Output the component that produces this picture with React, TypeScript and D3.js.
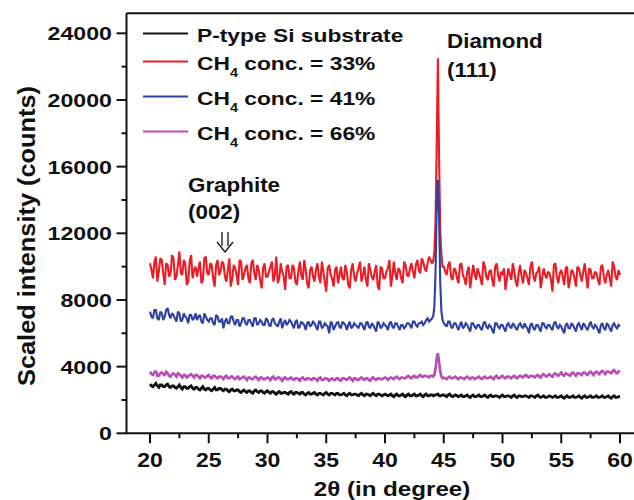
import React from "react";
import * as d3 from "d3";

// 2θ sampling grids: main values at 20 + 0.25*i, half-step values at 20.125 + 0.25*i
const baseStart = 20;
const halfStart = 20.125;
const baseStep = 0.25;

const seriesNames = ["P-type Si substrate", "33%", "41%", "66%"];
const seriesColors = ["#111111", "#ec1c24", "#2d41a0", "#b94bb4"];

// Red: CH4 = 33%
const red33: (number | null)[] = [
  10200, 9300, 10600, 9700, 10400, 8900, 10100, 9600,
  10500, 9400, 10900, 9500, 10200, 9100, 10700, 9800,
  9400, 10300, 9200, 10600, 9500, 10100, 8800, 10400,
  9700, 10200, 9100, 10500, 9300, 9900, 8900, 10300,
  9500, 10100, 9000, 10400, 9200, 9800, 8700, 10200,
  9400, 10000, 9100, 10600, 9300, 9700, 8600, 10100,
  9300, 9900, 8900, 10300, 9200, 9800, 8700, 10000,
  9100, 10200, 9000, 9700, 8500, 10100, 9300, 9800,
  9000, 10000, 9200, 9700, 8700, 10200, 9100, 9900,
  9100, 10000, 8800, 9800, 9200, 10100, 8600, 9900,
  9300, 9900, 8800, 10300, 9200, 9800, 9000, 10100,
  9400, 10200, 9300, 10400, 9600, 10300, 9700, 10600,
  10200, null, null, null, 10000, 9500, 10300, 9200,
  9800, 9000, 10200, 9300, 9700, 8700, 10100, 9200,
  9600, 8900, 10000, 9200, 9800, 8800, 10200, 9100,
  9500, 8600, 9900, 9200, 9700, 8800, 10100, 9000,
  9600, 8900, 10300, 9100, 9700, 8700, 9900, 9300,
  9600, 8500, 10200, 9000, 9800, 8900, 10000, 9200,
  9700, 8800, 9900, 9100, 10200, 8700, 9800, 9300,
  9600, 8900, 10100, 9000, 9800, 8800, 10000, 9200,
  9500,
];
const red33Half: (number | null)[] = [
  9800, 10300, 9100, 10500, 9600, 10200, 9400, 10700,
  9200, 10100, 9600, 10400, 8900, 10300, 9300, 10000,
  9900, 9000, 10500, 9600, 10200, 9300, 10100, 9500,
  10300, 9400, 9800, 8800, 10100, 9500, 10400, 9200,
  9900, 9300, 10200, 9600, 10100, 9200, 9900, 9400,
  9700, 10300, 9500, 9000, 10200, 9400, 10000, 9300,
  10100, 9100, 9700, 9500, 10400, 9000, 9800, 9400,
  9800, 9400, 10300, 9100, 9900, 9500, 8800, 10000,
  9500, 9300, 10100, 8900, 9800, 9400, 9600, 10300,
  9500, 9200, 10200, 9400, 9700, 8900, 10000, 9300,
  9700, 10400, 9400, 9600, 9900, 9300, 10300, 9500,
  9900, 9700, 10100, 9800, 10500, 9900, 10200, 10400,
  null, null, null, null, 9700, 10100, 9400, 9900,
  9300, 10100, 9500, 8900, 10000, 9400, 9600, 9900,
  9300, 10300, 9400, 9700, 9200, 10000, 9500, 9700,
  9900, 9300, 9500, 10200, 9100, 9600, 9400, 9800,
  9300, 10000, 9500, 9600, 10000, 9300, 9500, 9700,
  9200, 10100, 9400, 9600, 9400, 9900, 8700, 9800,
  9300, 10000, 9500, 9700, 9400, 9900, 9300, 9700,
  9200, 10000, 9400, 9500, 9300, 10300, 9400, 9800,
];

// Blue: CH4 = 41%
const blue41: (number | null)[] = [
  7300, 6900, 7400, 6800, 7200, 7000, 7500, 6900,
  7100, 6700, 7200, 6800, 7000, 6600, 7100, 6900,
  6800, 7100, 6600, 7000, 6700, 6900, 6500, 7000,
  6700, 6300, 6900, 6600, 7000, 6500, 6800, 6600,
  6900, 6500, 6800, 6400, 6900, 6600, 6700, 6500,
  6800, 6400, 6900, 6500, 6700, 6300, 6800, 6600,
  6700, 6300, 6800, 6400, 6600, 6200, 6700, 6500,
  6600, 6200, 6700, 6400, 6500, 6000, 6600, 6400,
  6700, 6300, 6600, 6200, 6700, 6400, 6500, 6300,
  6600, 6200, 6700, 6300, 6500, 6100, 6600, 6400,
  6500, 6200, 6700, 6300, 6600, 6200, 6500, 6400,
  6600, 6300, 6700, 6400, 6600, 6500, 6800, 6700,
  6900, null, null, null, 6600, 6400, 6700, 6300,
  6600, 6200, 6700, 6400, 6500, 6100, 6600, 6300,
  6500, 6200, 6700, 6300, 6400, 6000, 6600, 6300,
  6500, 6100, 6600, 6300, 6500, 6200, 6600, 6300,
  6400, 6000, 6600, 6200, 6500, 6100, 6600, 6300,
  6500, 6200, 6700, 6300, 6400, 6000, 6600, 6300,
  6500, 6100, 6600, 6200, 6500, 6200, 6700, 6300,
  6400, 6000, 6600, 6200, 6500, 6100, 6600, 6300,
  6400,
];
const blue41Half: (number | null)[] = [
  7000, 7400, 6900, 7300, 6800, 7400, 7100, 7200,
  6900, 7300, 6700, 7200, 6900, 7100, 6800, 7200,
  7000, 6700, 7200, 6800, 6900, 6600, 7100, 6700,
  6900, 6700, 6600, 7000, 6700, 6800, 6400, 6900,
  6600, 6800, 6600, 6900, 6500, 6800, 6500, 6900,
  6500, 6800, 6600, 6400, 6900, 6600, 6500, 6800,
  6500, 6700, 6300, 6700, 6500, 6600, 6400, 6700,
  6400, 6700, 6300, 6600, 6400, 6700, 6200, 6600,
  6400, 6700, 6500, 6500, 6300, 6600, 6400, 6600,
  6400, 6600, 6400, 6600, 6300, 6700, 6300, 6600,
  6400, 6600, 6400, 6600, 6400, 6500, 6300, 6600,
  6500, 6700, 6500, 6600, 6700, 6600, 6900, 6800,
  null, null, null, null, 6500, 6700, 6400, 6600,
  6400, 6500, 6300, 6600, 6300, 6600, 6400, 6500,
  6300, 6600, 6400, 6500, 6200, 6600, 6400, 6500,
  6300, 6500, 6400, 6600, 6300, 6500, 6400, 6600,
  6300, 6500, 6300, 6500, 6300, 6600, 6400, 6500,
  6300, 6600, 6400, 6500, 6200, 6500, 6300, 6600,
  6300, 6500, 6400, 6600, 6300, 6500, 6400, 6500,
  6200, 6500, 6300, 6600, 6300, 6500, 6400, 6500,
];

// Magenta: CH4 = 66%
const magenta66: (number | null)[] = [
  3700, 3500, 3750, 3450, 3650, 3500, 3600, 3400,
  3600, 3400, 3550, 3350, 3500, 3400, 3550, 3350,
  3500, 3300, 3450, 3350, 3500, 3300, 3450, 3300,
  3400, 3250, 3450, 3300, 3400, 3250, 3400, 3300,
  3400, 3200, 3350, 3250, 3400, 3200, 3350, 3250,
  3350, 3200, 3400, 3250, 3350, 3150, 3350, 3250,
  3350, 3200, 3300, 3150, 3350, 3200, 3300, 3200,
  3300, 3150, 3350, 3200, 3300, 3150, 3300, 3200,
  3300, 3150, 3300, 3200, 3350, 3150, 3300, 3200,
  3350, 3200, 3300, 3150, 3350, 3200, 3300, 3250,
  3350, 3200, 3350, 3250, 3400, 3250, 3350, 3300,
  3450, 3300, 3450, 3350, 3500, 3400, 3450, 3350,
  3450, null, null, null, 3350, 3250, 3400, 3300,
  3400, 3250, 3350, 3250, 3400, 3250, 3350, 3300,
  3400, 3250, 3400, 3300, 3400, 3250, 3450, 3300,
  3450, 3300, 3400, 3300, 3450, 3300, 3450, 3350,
  3500, 3350, 3450, 3350, 3500, 3350, 3550, 3400,
  3550, 3400, 3600, 3450, 3650, 3450, 3550, 3450,
  3650, 3450, 3600, 3500, 3650, 3500, 3700, 3500,
  3700, 3550, 3750, 3550, 3700, 3600, 3800, 3600,
  3750,
];
const magenta66Half: (number | null)[] = [
  3550, 3650, 3450, 3600, 3550, 3700, 3450, 3550,
  3500, 3600, 3450, 3500, 3350, 3500, 3450, 3500,
  3400, 3450, 3350, 3450, 3350, 3450, 3350, 3400,
  3350, 3400, 3300, 3400, 3300, 3350, 3250, 3350,
  3300, 3350, 3250, 3350, 3300, 3350, 3250, 3300,
  3300, 3350, 3250, 3350, 3250, 3300, 3250, 3300,
  3250, 3300, 3250, 3300, 3250, 3300, 3250, 3300,
  3250, 3300, 3200, 3300, 3250, 3250, 3200, 3300,
  3200, 3300, 3250, 3300, 3250, 3300, 3200, 3300,
  3250, 3300, 3200, 3300, 3250, 3300, 3250, 3300,
  3300, 3300, 3300, 3350, 3300, 3350, 3300, 3400,
  3350, 3400, 3350, 3450, 3400, 3450, 3400, 3450,
  null, null, null, null, 3300, 3350, 3300, 3350,
  3300, 3350, 3300, 3350, 3300, 3350, 3250, 3350,
  3300, 3350, 3300, 3350, 3300, 3400, 3300, 3400,
  3350, 3400, 3350, 3400, 3350, 3400, 3400, 3450,
  3400, 3450, 3400, 3450, 3400, 3500, 3450, 3500,
  3450, 3550, 3500, 3550, 3500, 3600, 3500, 3600,
  3550, 3600, 3550, 3650, 3550, 3650, 3600, 3650,
  3600, 3700, 3650, 3700, 3650, 3750, 3650, 3700,
];

// Black: P-type Si substrate
const blackSi: (number | null)[] = [
  2950, 2800, 3000, 2750, 2900, 2800, 2950, 2750,
  2850, 2700, 2900, 2650, 2800, 2700, 2850, 2650,
  2750, 2600, 2800, 2600, 2700, 2550, 2750, 2600,
  2700, 2550, 2650, 2500, 2650, 2550, 2600, 2450,
  2600, 2450, 2550, 2400, 2600, 2450, 2550, 2400,
  2550, 2400, 2500, 2350, 2500, 2400, 2450, 2350,
  2500, 2350, 2450, 2350, 2450, 2300, 2450, 2350,
  2450, 2300, 2400, 2300, 2450, 2300, 2400, 2300,
  2400, 2300, 2400, 2250, 2400, 2300, 2350, 2250,
  2400, 2250, 2350, 2250, 2400, 2250, 2350, 2250,
  2350, 2250, 2350, 2200, 2350, 2250, 2350, 2200,
  2350, 2250, 2350, 2250, 2350, 2200, 2350, 2250,
  2300, 2300, 2350, 2250, 2300, 2200, 2350, 2200,
  2300, 2200, 2300, 2200, 2300, 2150, 2300, 2200,
  2300, 2200, 2300, 2150, 2300, 2200, 2250, 2150,
  2300, 2200, 2250, 2150, 2300, 2150, 2250, 2200,
  2250, 2150, 2250, 2150, 2300, 2150, 2250, 2150,
  2250, 2150, 2250, 2150, 2250, 2100, 2250, 2150,
  2250, 2150, 2250, 2100, 2250, 2150, 2250, 2150,
  2250, 2150, 2250, 2150, 2250, 2100, 2250, 2150,
  2200,
];
const blackSiHalf: (number | null)[] = [
  2850, 2900, 2850, 2900, 2800, 2900, 2800, 2850,
  2750, 2800, 2750, 2800, 2700, 2800, 2700, 2750,
  2650, 2700, 2650, 2700, 2600, 2650, 2600, 2700,
  2600, 2650, 2550, 2600, 2550, 2600, 2500, 2550,
  2500, 2550, 2450, 2550, 2500, 2550, 2450, 2500,
  2450, 2500, 2400, 2450, 2400, 2450, 2400, 2450,
  2400, 2450, 2400, 2450, 2350, 2400, 2350, 2400,
  2350, 2400, 2350, 2400, 2350, 2400, 2350, 2400,
  2300, 2350, 2300, 2350, 2300, 2350, 2300, 2350,
  2300, 2350, 2300, 2350, 2300, 2350, 2300, 2300,
  2300, 2300, 2250, 2300, 2250, 2300, 2250, 2300,
  2250, 2300, 2250, 2300, 2250, 2300, 2250, 2300,
  2250, 2300, 2250, 2300, 2250, 2300, 2250, 2250,
  2250, 2250, 2200, 2250, 2200, 2250, 2200, 2250,
  2200, 2250, 2200, 2250, 2200, 2250, 2200, 2250,
  2200, 2250, 2200, 2250, 2200, 2250, 2200, 2250,
  2200, 2250, 2200, 2250, 2200, 2200, 2150, 2200,
  2200, 2200, 2150, 2200, 2150, 2200, 2150, 2200,
  2150, 2200, 2150, 2200, 2150, 2200, 2150, 2200,
  2150, 2200, 2150, 2200, 2150, 2200, 2150, 2200,
];

// Diamond (111) peak region
const peakX = [44.1, 44.2, 44.3, 44.4, 44.5, 44.6, 44.7, 44.8, 44.9];
const peakRed = [10300, 10900, 12600, 17200, 22500, 16600, 12100, 10700, 10000];
const peakBlue = [7000, 7600, 9600, 13600, 15200, 13100, 9100, 7300, 6800];
const peakMagenta = [3400, 3500, 3900, 4500, 4800, 4300, 3700, 3400, 3300];
const peakBlack: number[] = [];

const xTicks = [20, 25, 30, 35, 40, 45, 50, 55, 60];
const yTicks = [0, 4000, 8000, 12000, 16000, 20000, 24000];

type Pt = [number, number];

function buildSeries(
  base: (number | null)[],
  half: (number | null)[],
  peak: number[]
): Pt[] {
  const pts: Pt[] = [];
  base.forEach((v, i) => {
    if (v !== null) pts.push([baseStart + i * baseStep, v]);
  });
  half.forEach((v, i) => {
    if (v !== null) pts.push([halfStart + i * baseStep, v]);
  });
  peak.forEach((v, i) => pts.push([peakX[i], v]));
  pts.sort((a, b) => a[0] - b[0]);
  return pts;
}

const FONT = "'Liberation Sans', Arial, Helvetica, sans-serif";

function T(props: {
  x: number;
  y: number;
  size: number;
  sx?: number;
  anchor?: "start" | "middle" | "end";
  children: React.ReactNode;
}) {
  const { x, y, size, sx = 1.15, anchor = "start", children } = props;
  return (
    <text
      transform={`translate(${x},${y}) scale(${sx},1)`}
      fontFamily={FONT}
      fontWeight="bold"
      fontSize={size}
      textAnchor={anchor}
      fill="#111"
    >
      {children}
    </text>
  );
}

export default function App() {
  const W = 634;
  const H = 500;
  const left = 126.5;
  const top = 13.3;
  const bottom = 433.3;

  const x = d3.scaleLinear().domain([18, 62]).range([left, 643.5]);
  const y = d3.scaleLinear().domain([0, 25200]).range([bottom, top]);

  const line = d3
    .line<Pt>()
    .x((d) => x(d[0]))
    .y((d) => y(d[1]));

  const series = [
    { data: buildSeries(red33, red33Half, peakRed), color: seriesColors[1], w: 2.1 },
    { data: buildSeries(blue41, blue41Half, peakBlue), color: seriesColors[2], w: 2.1 },
    { data: buildSeries(magenta66, magenta66Half, peakMagenta), color: seriesColors[3], w: 2.6 },
    { data: buildSeries(blackSi, blackSiHalf, peakBlack), color: seriesColors[0], w: 2.8 },
  ];

  const xMinor = d3.range(20, 62, 2.5).filter((v) => v % 5 !== 0);
  const yMinor = d3.range(2000, 25200, 4000);

  const legendRows = [
    { base: 42, color: seriesColors[0], label: seriesNames[0], ch4: false },
    { base: 70, color: seriesColors[1], label: seriesNames[1], ch4: true },
    { base: 105, color: seriesColors[2], label: seriesNames[2], ch4: true },
    { base: 140, color: seriesColors[3], label: seriesNames[3], ch4: true },
  ];

  return (
    <svg
      width={W}
      height={H}
      style={{ position: "absolute", left: 0, top: 0, background: "#fff" }}
    >
      <rect x={0} y={0} width={W} height={H} fill="#fff" />

      {/* data */}
      {series.map((s, i) => (
        <path
          key={i}
          d={line(s.data) || ""}
          fill="none"
          stroke={s.color}
          strokeWidth={s.w}
          strokeLinejoin="miter"
          strokeMiterlimit={2}
        />
      ))}

      {/* frame */}
      <line x1={left} x2={W} y1={top} y2={top} stroke="#111" strokeWidth={2} />
      <line x1={left} x2={left} y1={top} y2={bottom} stroke="#111" strokeWidth={2} />
      <line x1={left - 1} x2={W} y1={bottom} y2={bottom} stroke="#111" strokeWidth={2} />

      {/* x ticks */}
      {xTicks.map((t) => (
        <g key={"xt" + t}>
          <line x1={x(t)} x2={x(t)} y1={bottom} y2={bottom + 10} stroke="#111" strokeWidth={2} />
          <T x={x(t)} y={467} size={20} sx={1.15} anchor="middle">
            {t}
          </T>
        </g>
      ))}
      {xMinor.map((t) => (
        <line key={"xm" + t} x1={x(t)} x2={x(t)} y1={bottom} y2={bottom + 5} stroke="#111" strokeWidth={2} />
      ))}

      {/* y ticks */}
      {yTicks.map((t) => (
        <g key={"yt" + t}>
          <line x1={left - 10} x2={left} y1={y(t)} y2={y(t)} stroke="#111" strokeWidth={2} />
          <T x={112} y={y(t) + 7} size={19} sx={1.22} anchor="end">
            {t}
          </T>
        </g>
      ))}
      {yMinor.map((t) => (
        <line key={"ym" + t} x1={left - 5} x2={left} y1={y(t)} y2={y(t)} stroke="#111" strokeWidth={2} />
      ))}

      {/* axis titles */}
      <T x={392} y={496} size={21} sx={1.15} anchor="middle">
        2θ (in degree)
      </T>
      <text
        transform={`translate(35,236) rotate(-90)`}
        fontFamily={FONT}
        fontWeight="bold"
        fontSize={23}
        textAnchor="middle"
        textLength={300}
        lengthAdjust="spacingAndGlyphs"
        fill="#111"
      >
        Scaled intensity (counts)
      </text>

      {/* legend */}
      {legendRows.map((r, i) => (
        <g key={"lg" + i}>
          <line x1={143} x2={188} y1={r.base - 8.5} y2={r.base - 8.5} stroke={r.color} strokeWidth={1.8} />
          {r.ch4 ? (
            <text
              transform={`translate(197,${r.base}) scale(1.2,1)`}
              fontFamily={FONT}
              fontWeight="bold"
              fontSize={19}
              fill="#111"
            >
              CH
              <tspan fontSize={12} dy={7}>
                4
              </tspan>
              <tspan dy={-7}>{" conc. = " + r.label}</tspan>
            </text>
          ) : (
            <T x={197} y={r.base} size={19} sx={1.2}>
              {r.label}
            </T>
          )}
        </g>
      ))}

      {/* annotations */}
      <T x={447} y={48} size={20} sx={1.12}>
        Diamond
      </T>
      <T x={447} y={77} size={20} sx={1.12}>
        (111)
      </T>
      <T x={188} y={192} size={20} sx={1.12}>
        Graphite
      </T>
      <T x={188} y={219} size={20} sx={1.12}>
        (002)
      </T>
      <path
        d="M222,232 V246 M228,232 V246 M217,242 L225,252 L233,242"
        fill="none"
        stroke="#111"
        strokeWidth={1.3}
      />
    </svg>
  );
}
